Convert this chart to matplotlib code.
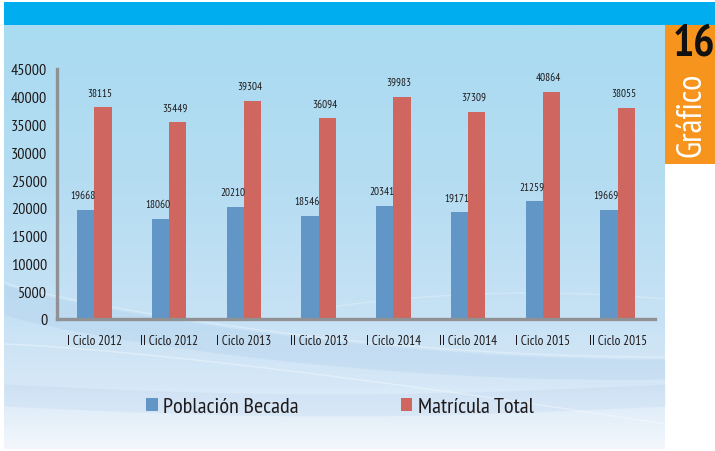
import matplotlib.pyplot as plt
import numpy as np
from matplotlib.patches import Rectangle

categories = ["I Ciclo 2012", "II Ciclo 2012", "I Ciclo 2013", "II Ciclo 2013",
              "I Ciclo 2014", "II Ciclo 2014", "I Ciclo 2015", "II Ciclo 2015"]
becada = [19668, 18060, 20210, 18546, 20341, 19171, 21259, 19669]
matricula = [38115, 35449, 39304, 36094, 39983, 37309, 40864, 38055]
yticks = list(range(0, 45001, 5000))
series_names = ["Población Becada", "Matrícula Total"]

BLUE = "#6196C7"
RED = "#CF665F"
TEXT = "#1E1A1B"

plt.rcParams["font.family"] = ["PT Sans Narrow", "DejaVu Sans"]


def draw_background(fig):
    bg = fig.add_axes([0, 0, 1, 1], zorder=-10)
    bg.set_xlim(0, 715)
    bg.set_ylim(452, 0)
    bg.axis("off")

    # light blue panel, vertical gradient
    stops = np.array([[169, 219, 241], [182, 221, 242], [200, 226, 245],
                      [214, 232, 247], [243, 247, 252]]) / 255
    pos = np.array([0.0, 0.4, 0.7, 0.85, 1.0])
    t = np.linspace(0, 1, 300)
    grad = np.stack([np.interp(t, pos, stops[:, i]) for i in range(3)], axis=1)
    img = np.repeat(grad[:, None, :], 2, axis=1)
    bg.imshow(img, extent=(4, 665, 450, 26), aspect="auto", interpolation="bilinear")

    # soft swooshes
    xs = np.linspace(4, 665, 300)
    u = (xs - 4) / 661
    band_top = 285 + 75 * np.sin(u * np.pi / 2) ** 0.8
    bg.fill_between(xs, band_top, band_top + 30 - 10 * u, color="#8FB8E0", alpha=0.16, lw=0)
    low = 385 + 10 * np.sin(u * np.pi)
    bg.fill_between(xs, low, low + 22, color="#A9C6E8", alpha=0.18, lw=0)
    bg.plot(xs, band_top - 2, color="white", alpha=0.3, lw=1.0)
    swoop = 345 + 80 * u ** 1.3
    bg.plot(xs, swoop, color="white", alpha=0.35, lw=1.0)
    arc = 240 + 150 * (1 - u) ** 2
    bg.plot(xs[150:], arc[150:] + 60 * u[150:], color="white", alpha=0.25, lw=1.0)

    # top bar and orange tab
    bg.add_patch(Rectangle((4, 3), 711, 23, color="#00AEEF", lw=0))
    bg.add_patch(Rectangle((665, 26), 50, 139, color="#F7941D", lw=0))
    bg.text(694, 45, "16", ha="center", va="center", fontsize=32,
            fontweight="bold", color="#111111")
    bg.text(691, 115, "Gráfico", ha="center", va="center", rotation=90,
            fontsize=25, color="white")


def main():
    fig = plt.figure(figsize=(7.15, 4.52), dpi=100)
    fig.patch.set_facecolor("white")
    draw_background(fig)

    ax = fig.add_axes([57 / 715, 132 / 452, 598 / 715, 250 / 452])
    ax.set_facecolor("none")

    x = np.arange(len(categories))
    w = 0.23
    b1 = ax.bar(x - w / 2, becada, w, color=BLUE, label=series_names[0])
    b2 = ax.bar(x + w / 2, matricula, w, color=RED, label=series_names[1])

    for bars, vals in ((b1, becada), (b2, matricula)):
        for rect, v in zip(bars, vals):
            ax.annotate(str(v), (rect.get_x() + rect.get_width() / 2, v),
                        xytext=(-2, 7), textcoords="offset points",
                        ha="center", va="bottom", fontsize=8, color=TEXT)

    ax.set_xlim(-0.5, len(categories) - 0.5)
    ax.set_ylim(0, 45000)
    ax.set_yticks(yticks)
    ax.set_yticklabels([str(v) for v in yticks])
    ax.set_xticks(x)
    ax.set_xticklabels(categories)
    ax.tick_params(axis="y", length=0, pad=7, labelsize=11.5, labelcolor=TEXT)
    ax.tick_params(axis="x", length=0, pad=11, labelsize=9.5, labelcolor=TEXT)

    for side in ("top", "right"):
        ax.spines[side].set_visible(False)
    for side in ("left", "bottom"):
        ax.spines[side].set_color("#8F9194")
        ax.spines[side].set_linewidth(2.4)

    ax.legend(loc="center", bbox_to_anchor=(340 / 715, 44 / 452),
              bbox_transform=fig.transFigure, ncol=2, frameon=False,
              fontsize=16, handlelength=0.5, handleheight=0.5,
              handletextpad=0.25, columnspacing=4.6,
              labelcolor=TEXT)

    fig.savefig("out.png", dpi=100)


if __name__ == "__main__":
    main()
